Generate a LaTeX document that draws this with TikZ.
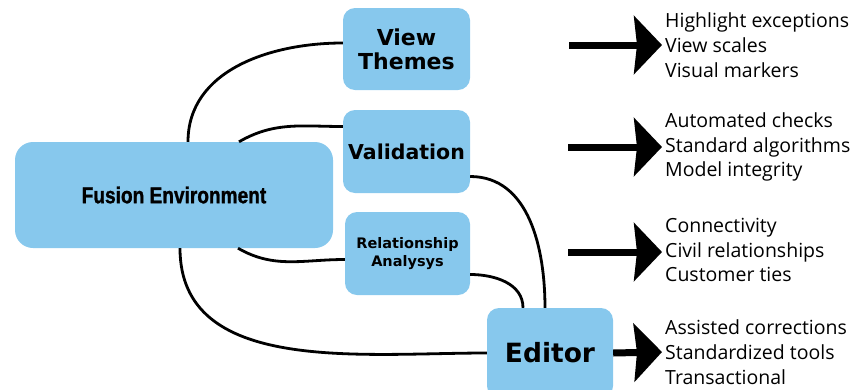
\documentclass[tikz,border=0pt]{standalone}
\usepackage{fontspec}
\setmainfont{Open Sans}
\newfontfamily\boxfont{DejaVu Sans}
\newfontfamily\narrowfont[FakeStretch=0.83]{Liberation Sans}
\usetikzlibrary{arrows.meta}
\definecolor{boxblue}{HTML}{87C8ED}

\begin{document}
\begin{tikzpicture}[x=1pt,y=-1pt,
        topic/.style={fill=boxblue,rounded corners=12pt,inner sep=0pt,align=center,
            font=\boxfont\bfseries},
        link/.style={black,line width=2.8pt},
        bigarrow/.style={line width=7pt,-{Stealth[length=28pt,width=58pt,inset=3pt]}},
        items/.style={anchor=west,inner sep=0pt,align=left,font=\fontsize{19.5}{24.8}\selectfont}]
    \useasboundingbox (0,0) rectangle (860,389);

    \node[topic,minimum width=318pt,minimum height=106pt,rounded corners=18pt,
        font=\narrowfont\bfseries\addfontfeature{FakeBold=1.2}\fontsize{23}{26}\selectfont] (fusion) at (174,195) {Fusion Environment};
    \node[topic,minimum width=127pt,minimum height=82pt,font=\boxfont\bfseries\fontsize{22}{24}\selectfont]
        (themes) at (406.5,49) {View\\Themes};
    \node[topic,minimum width=127pt,minimum height=83pt,font=\boxfont\bfseries\fontsize{20.5}{24}\selectfont]
        (valid) at (406.5,151.5) {Validation};
    \node[topic,minimum width=125pt,minimum height=83pt,font=\boxfont\bfseries\fontsize{14.5}{18}\selectfont]
        (relation) at (407.5,253.5) {Relationship\\Analysys};
    \node[topic,minimum width=126pt,minimum height=90pt,font=\boxfont\bfseries\fontsize{26.5}{28}\selectfont]
        (editor) at (550,353) {Editor};

    % connectors
    \draw[link] ([xshift=14pt]fusion.north) to[out=90,in=180] ([yshift=6pt]themes.west);
    \draw[link] ([xshift=65pt]fusion.north) to[out=30,in=180] ([yshift=25pt]valid.west);
    \draw[link] ([xshift=64pt]fusion.south) to[out=-30,in=180] ([yshift=-6pt]relation.west);
    \draw[link] ([xshift=6pt]fusion.south) to[out=-90,in=180] (editor.west);
    \draw[link] ([yshift=-25pt]valid.east) to[out=0,in=90] ([xshift=-5pt]editor.north);
    \draw[link] ([yshift=-21pt]relation.east) to[out=0,in=90] ([xshift=-27pt]editor.north);

    % lists
    \node[items] (l1) at (665,45) {Highlight exceptions\\View scales\\Visual markers};
    \node[items] (l2) at (665,147) {Automated checks\\Standard algorithms\\Model integrity};
    \node[items] (l3) at (665,250) {Connectivity\\Civil relationships\\Customer ties};
    \node[items] (l4) at (665,352) {Assisted corrections\\Standardized tools\\Transactional};

    \coordinate (a1) at (569,45);
    \coordinate (a2) at (568,147);
    \coordinate (a3) at (568,252);
    \draw[bigarrow] (a1) -- ([xshift=-3pt]l1.west);
    \draw[bigarrow] (a2) -- ([xshift=-3pt]l2.west);
    \draw[bigarrow] (a3) -- ([xshift=-3pt]l3.west |- a3);
    \draw[bigarrow] (editor.east) -- ([xshift=-3pt]l4.west);
\end{tikzpicture}
\end{document}
